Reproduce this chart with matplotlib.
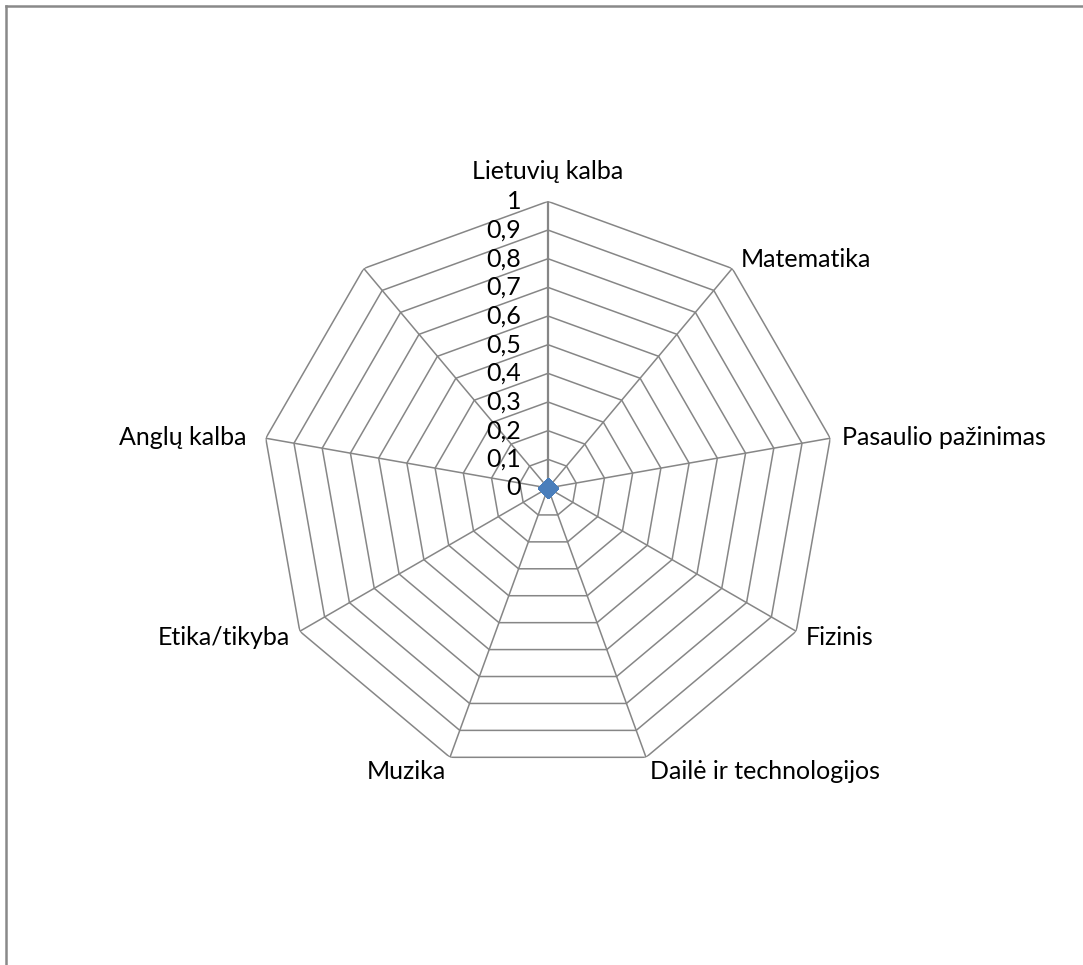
import numpy as np
import matplotlib
matplotlib.use("Agg")
import matplotlib.pyplot as plt
from matplotlib.lines import Line2D

plt.rcParams['font.family'] = ['Lato', 'DejaVu Sans']

# chart data
categories = ['Lietuvių kalba', 'Matematika', 'Pasaulio pažinimas', 'Fizinis',
              'Dailė ir technologijos', 'Muzika', 'Etika/tikyba', 'Anglų kalba', '']
values = [0, 0, 0, 0, 0, 0, 0, 0, 0]
levels = [0.1, 0.2, 0.3, 0.4, 0.5, 0.6, 0.7, 0.8, 0.9, 1.0]
level_labels = ['0', '0,1', '0,2', '0,3', '0,4', '0,5', '0,6', '0,7', '0,8', '0,9', '1']

grid_col = '#868686'
fs = 18
W, H = 1083, 965
fig = plt.figure(figsize=(W / 100, H / 100), dpi=100)

# polar axes placed so the centre sits at (548, 488) px, radius ~287 px
cx, cy, rad = 548, 488, 286.6
ax = fig.add_axes([(cx - rad) / W, (H - cy - rad) / H, 2 * rad / W, 2 * rad / H],
                  projection='polar')
ax.set_theta_zero_location('N')
ax.set_theta_direction(-1)
ax.set_ylim(0, 1)
ax.grid(False)
ax.spines['polar'].set_visible(False)
ax.set_xticks([])
ax.set_yticks([])
ax.patch.set_visible(False)

n = len(categories)
angles = np.arange(n) * 2 * np.pi / n
closed = np.append(angles, angles[0])

# nonagon grid
for lv in levels:
    ax.plot(closed, [lv] * (n + 1), color=grid_col, lw=1.1, zorder=1)
for a in angles:
    ax.plot([a, a], [0, 1], color=grid_col, lw=1.1, zorder=1)
# main axis a bit stronger
ax.plot([0, 0], [0, 1], color=grid_col, lw=1.6, zorder=1)

# series
ax.plot(closed, values + [values[0]], color='#4A7EBB', lw=2, zorder=3)
ax.plot(angles, values, 'D', color='#4A7EBB', ms=10, mec='#4A7EBB', zorder=4,
        clip_on=False)

# radial tick labels
for i, lab in enumerate(level_labels):
    r = 0 if i == 0 else levels[i - 1]
    ax.annotate(lab, xy=(0, r), xytext=(-27, 0), textcoords='offset pixels',
                ha='right', va='center', fontsize=fs, color='black')

# category labels: offsets in pixels from the vertex
offsets = [(0, 18, 'center', 'bottom'), (9, 9, 'left', 'center'),
           (12, 1, 'left', 'center'), (10, -6, 'left', 'center'),
           (4, -14, 'left', 'center'), (-4, -14, 'right', 'center'),
           (-10, -6, 'right', 'center'), (-19, 1, 'right', 'center'),
           (0, 0, 'right', 'center')]
for a, lab, (dx, dy, ha, va) in zip(angles, categories, offsets):
    if lab:
        ax.annotate(lab, xy=(a, 1), xytext=(dx, dy), textcoords='offset pixels',
                    ha=ha, va=va, fontsize=fs, color='black')

# chart area border (only left and top visible)
fig.add_artist(Line2D([6 / W, 6 / W], [0, 1 - 6 / H], transform=fig.transFigure,
                      color='#898989', lw=1.8))
fig.add_artist(Line2D([6 / W, 1], [1 - 6 / H, 1 - 6 / H], transform=fig.transFigure,
                      color='#898989', lw=1.8))

fig.savefig('out.png', dpi=100)
